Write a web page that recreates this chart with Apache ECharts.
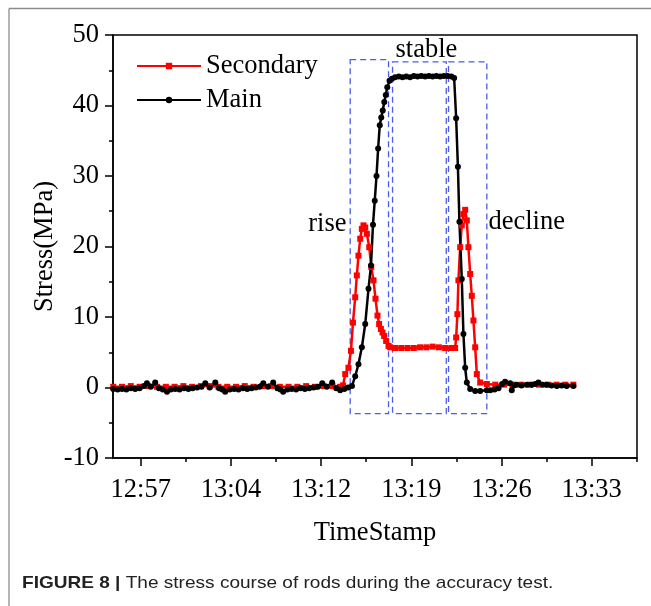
<!DOCTYPE html>
<html>
<head>
<meta charset="utf-8">
<script src="https://cdn.jsdelivr.net/npm/echarts@6/dist/echarts.min.js"></script>
<style>
  html, body { margin: 0; padding: 0; background: #fff; }
  #chart { width: 651px; height: 606px; }
</style>
</head>
<body>
<div id="chart"></div>
<script>
// time is minutes after 12:00
const tickMinutes = [57.6, 64.8, 72, 79.2, 86.4, 93.6]
const minorTickMinutes = [61.2, 68.4, 75.6, 82.8, 90, 97.2]

const mainTime = [
  55.40, 55.75, 56.10, 56.45, 56.80, 57.15, 57.50, 57.85, 58.09, 58.40, 58.75, 59.05, 59.35, 59.69,
  60.00, 60.35, 60.70, 61.05, 61.40, 61.75, 62.10, 62.45, 62.75, 63.10, 63.55, 63.85, 64.10, 64.34,
  64.70, 65.05, 65.40, 65.75, 66.10, 66.45, 66.80, 67.10, 67.38, 67.75, 68.17, 68.50, 68.75, 68.97,
  69.30, 69.65, 70.00, 70.35, 70.70, 71.05, 71.40, 71.75, 72.09, 72.45, 72.88, 73.20, 73.52, 73.85,
  74.16, 74.46, 74.72, 74.98, 75.25, 75.52, 75.78, 75.98, 76.14, 76.28, 76.42, 76.55, 76.68, 76.80,
  76.92, 77.04, 77.16, 77.28, 77.46, 77.65, 77.90, 78.20, 78.50, 78.80, 79.10, 79.40, 79.70, 80.00,
  80.30, 80.60, 80.90, 81.20, 81.50, 81.80, 82.10, 82.40, 82.62, 82.78, 82.92, 83.04, 83.23, 83.36,
  83.50, 83.63, 83.90, 84.30, 84.70, 85.23, 85.50, 85.85, 86.16, 86.45, 86.69, 87.09, 87.22, 87.40,
  87.62, 88.00, 88.42, 88.80, 89.10, 89.35, 89.70, 90.02, 90.40, 90.82, 91.20, 91.60, 92.14
]
const mainStress = [
  -0.2, -0.3, -0.2, -0.3, -0.1, -0.2, -0.1, 0.2, 0.6, 0.1, 0.7, -0.1, -0.3, -0.6,
  -0.3, -0.2, -0.3, -0.1, -0.2, -0.1, 0.0, 0.1, 0.6, 0.0, 0.7, -0.1, -0.3, -0.6,
  -0.3, -0.2, -0.3, -0.1, -0.2, -0.1, 0.0, 0.1, 0.6, 0.1, 0.7, -0.1, -0.3, -0.6,
  -0.3, -0.2, -0.3, -0.1, -0.2, -0.1, 0.0, 0.1, 0.6, 0.1, 0.7, -0.1, -0.4, -0.2,
  0.0, 0.2, 1.6, 3.3, 5.7, 9.0, 14.0, 17.3, 23.1, 26.5, 30.0, 33.9, 37.2, 38.3,
  39.3, 40.5, 41.5, 42.6, 43.5, 43.8, 44.0, 44.1, 44.0, 44.1, 44.0, 44.2, 44.1, 44.2,
  44.1, 44.2, 44.1, 44.2, 44.1, 44.2, 44.2, 44.1, 43.9, 38.2, 31.3, 23.5, 15.4, 7.6,
  2.8, 0.7, -0.2, -0.5, -0.5, -0.4, -0.4, -0.3, -0.1, 0.5, 0.8, 0.6, -0.4, 0.3,
  0.4, 0.3, 0.4, 0.4, 0.5, 0.7, 0.4, 0.4, 0.3, 0.2, 0.3, 0.2, 0.2
]

const secTime = [
  55.40, 56.10, 56.80, 57.50, 58.20, 58.90, 59.60, 60.30, 61.00, 61.70, 62.40, 63.10, 63.80, 64.50,
  65.20, 65.90, 66.60, 67.30, 68.00, 68.70, 69.40, 70.10, 70.80, 71.50, 72.20, 72.90, 73.50, 73.75,
  73.92, 74.18, 74.38, 74.54, 74.72, 74.85, 74.98, 75.12, 75.25, 75.38, 75.52, 75.65, 75.84, 76.00,
  76.18, 76.34, 76.50, 76.63, 76.77, 76.90, 77.03, 77.19, 77.38, 77.51, 77.90, 78.40, 78.90, 79.40,
  79.90, 80.40, 80.90, 81.40, 81.90, 82.40, 82.70, 82.78, 82.88, 82.96, 83.10, 83.23, 83.36, 83.50,
  83.63, 83.76, 83.90, 84.03, 84.16, 84.30, 84.43, 84.70, 85.23, 85.90, 86.60, 87.30, 88.00, 88.70,
  89.40, 90.10, 90.80, 91.50, 92.14
]
const secStress = [
  0.1, 0.1, 0.2, 0.1, 0.2, 0.1, 0.1, 0.1, 0.2, 0.1, 0.2, 0.2, 0.1, 0.1,
  0.1, 0.2, 0.1, 0.2, 0.2, 0.1, 0.1, 0.1, 0.2, 0.1, 0.2, 0.2, 0.1, 0.3,
  1.9, 2.8, 5.2, 9.2, 12.8, 15.9, 18.7, 21.1, 22.5, 23.0, 22.7, 21.8, 19.9, 17.1,
  15.2, 12.6, 10.2, 9.0, 8.3, 7.8, 7.3, 6.6, 5.9, 5.7, 5.6, 5.6, 5.6, 5.6,
  5.7, 5.7, 5.8, 5.7, 5.6, 5.6, 5.6, 7.1, 10.4, 15.2, 19.9, 23.0, 24.6, 25.2,
  23.7, 19.9, 16.1, 13.0, 9.5, 5.7, 1.9, 0.7, 0.5, 0.4, 0.4, 0.4, 0.4, 0.4,
  0.4, 0.4, 0.4, 0.4, 0.4
]

// stage boxes
const stageNames = ['rise', 'stable', 'decline']
const stageStart = [74.32, 77.70, 82.17]
const stageEnd = [77.38, 81.99, 85.23]
const stageTop = [46.5, 46.2, 46.2]
const stageBottom = [-3.7, -3.7, -3.7]

const serif = 'Liberation Serif'
const fs = 26.5

function pairs(xs, ys) {
  return xs.map((x, i) => [x, ys[i]])
}

function clock(v) {
  let h = 12 + Math.floor(v / 60)
  let m = Math.floor(v % 60 + 1e-6)
  return h + ':' + (m < 10 ? '0' + m : m)
}

const stageLabel = [
  { position: 'left', distance: 3, offset: [0, -13] },
  { position: 'top', distance: -2, offset: [7, 0] },
  { position: 'right', distance: 1, offset: [0, -16] }
]

let areas = stageNames.map((name, i) => [
  {
    name: name,
    xAxis: stageStart[i],
    yAxis: stageTop[i],
    label: Object.assign({ show: true, color: '#000', fontFamily: serif, fontSize: fs }, stageLabel[i])
  },
  { xAxis: stageEnd[i], yAxis: stageBottom[i] }
])

let chart = echarts.init(document.getElementById('chart'))
chart.setOption({
  animation: false,
  backgroundColor: '#fff',
  grid: {
    left: 113, top: 35, right: 14, bottom: 148,
    show: true, borderColor: '#000', borderWidth: 1.5, backgroundColor: 'transparent'
  },
  legend: {
    orient: 'vertical',
    left: 131,
    top: 46,
    itemWidth: 64,
    itemHeight: 8,
    itemGap: 4,
    textStyle: { fontFamily: serif, fontSize: fs, color: '#000', lineHeight: 30 },
    data: ['Secondary', 'Main']
  },
  xAxis: [{
    type: 'value',
    min: 55.38,
    max: 97.22,
    name: 'TimeStamp',
    nameLocation: 'middle',
    nameGap: 62,
    nameMoveOverlap: false,
    nameTextStyle: { fontFamily: serif, fontSize: fs, color: '#000' },
    splitLine: { show: false },
    axisLine: { onZero: false, lineStyle: { color: '#000', width: 1.5 } },
    axisTick: { customValues: tickMinutes, length: 8, lineStyle: { color: '#000', width: 1.5 } },
    axisLabel: {
      customValues: tickMinutes,
      formatter: clock,
      margin: 19,
      fontFamily: serif, fontSize: fs, color: '#000'
    }
  }, {
    type: 'value',
    position: 'bottom',
    min: 55.38,
    max: 97.22,
    splitLine: { show: false },
    axisLine: { show: false, onZero: false },
    axisLabel: { show: false },
    axisTick: { customValues: minorTickMinutes, length: 4, lineStyle: { color: '#000', width: 1.5 } }
  }],
  yAxis: {
    type: 'value',
    min: -10,
    max: 50,
    interval: 10,
    name: 'Stress(MPa)',
    nameLocation: 'middle',
    nameGap: 54,
    nameMoveOverlap: false,
    nameTextStyle: { fontFamily: serif, fontSize: fs, color: '#000' },
    splitLine: { show: false },
    axisLine: { show: true, onZero: false, lineStyle: { color: '#000', width: 1.5 } },
    axisTick: { length: 8, lineStyle: { color: '#000', width: 1.5 } },
    minorTick: { show: true, splitNumber: 2, length: 4, lineStyle: { color: '#000', width: 1.5 } },
    axisLabel: { margin: 14, fontFamily: serif, fontSize: fs, color: '#000' }
  },
  series: [{
    name: 'Secondary',
    type: 'line',
    data: pairs(secTime, secStress),
    symbol: 'rect',
    symbolSize: 6,
    color: '#ff0000',
    lineStyle: { color: '#ff0000', width: 2.5 },
    itemStyle: { color: '#ff0000' }
  }, {
    name: 'Main',
    type: 'line',
    data: pairs(mainTime, mainStress),
    symbol: 'circle',
    symbolSize: 6,
    color: '#000',
    lineStyle: { color: '#000', width: 2.5 },
    itemStyle: { color: '#000' },
    markArea: {
      silent: true,
      itemStyle: {
        color: 'rgba(0,0,0,0)',
        borderColor: '#4a5cf0',
        borderWidth: 1.3,
        borderType: [6, 4]
      },
      data: areas
    }
  }],
  graphic: [{
    type: 'line',
    shape: { x1: 9, y1: 8.5, x2: 651, y2: 8.5 },
    style: { stroke: '#8c8c8c', lineWidth: 1.3 }
  }, {
    type: 'line',
    shape: { x1: 9, y1: 8.5, x2: 9, y2: 606 },
    style: { stroke: '#8c8c8c', lineWidth: 1.3 }
  }, {
    type: 'text',
    x: 22,
    y: 583,
    scaleX: 1.12,
    style: {
      text: '{b|FIGURE 8 |}{r| The stress course of rods during the accuracy test.}',
      verticalAlign: 'middle',
      rich: {
        b: { fontFamily: 'Liberation Sans', fontWeight: 'bold', fontSize: 17, fill: '#222' },
        r: { fontFamily: 'Liberation Sans', fontSize: 17, fill: '#222' }
      }
    }
  }]
})
</script>
</body>
</html>
